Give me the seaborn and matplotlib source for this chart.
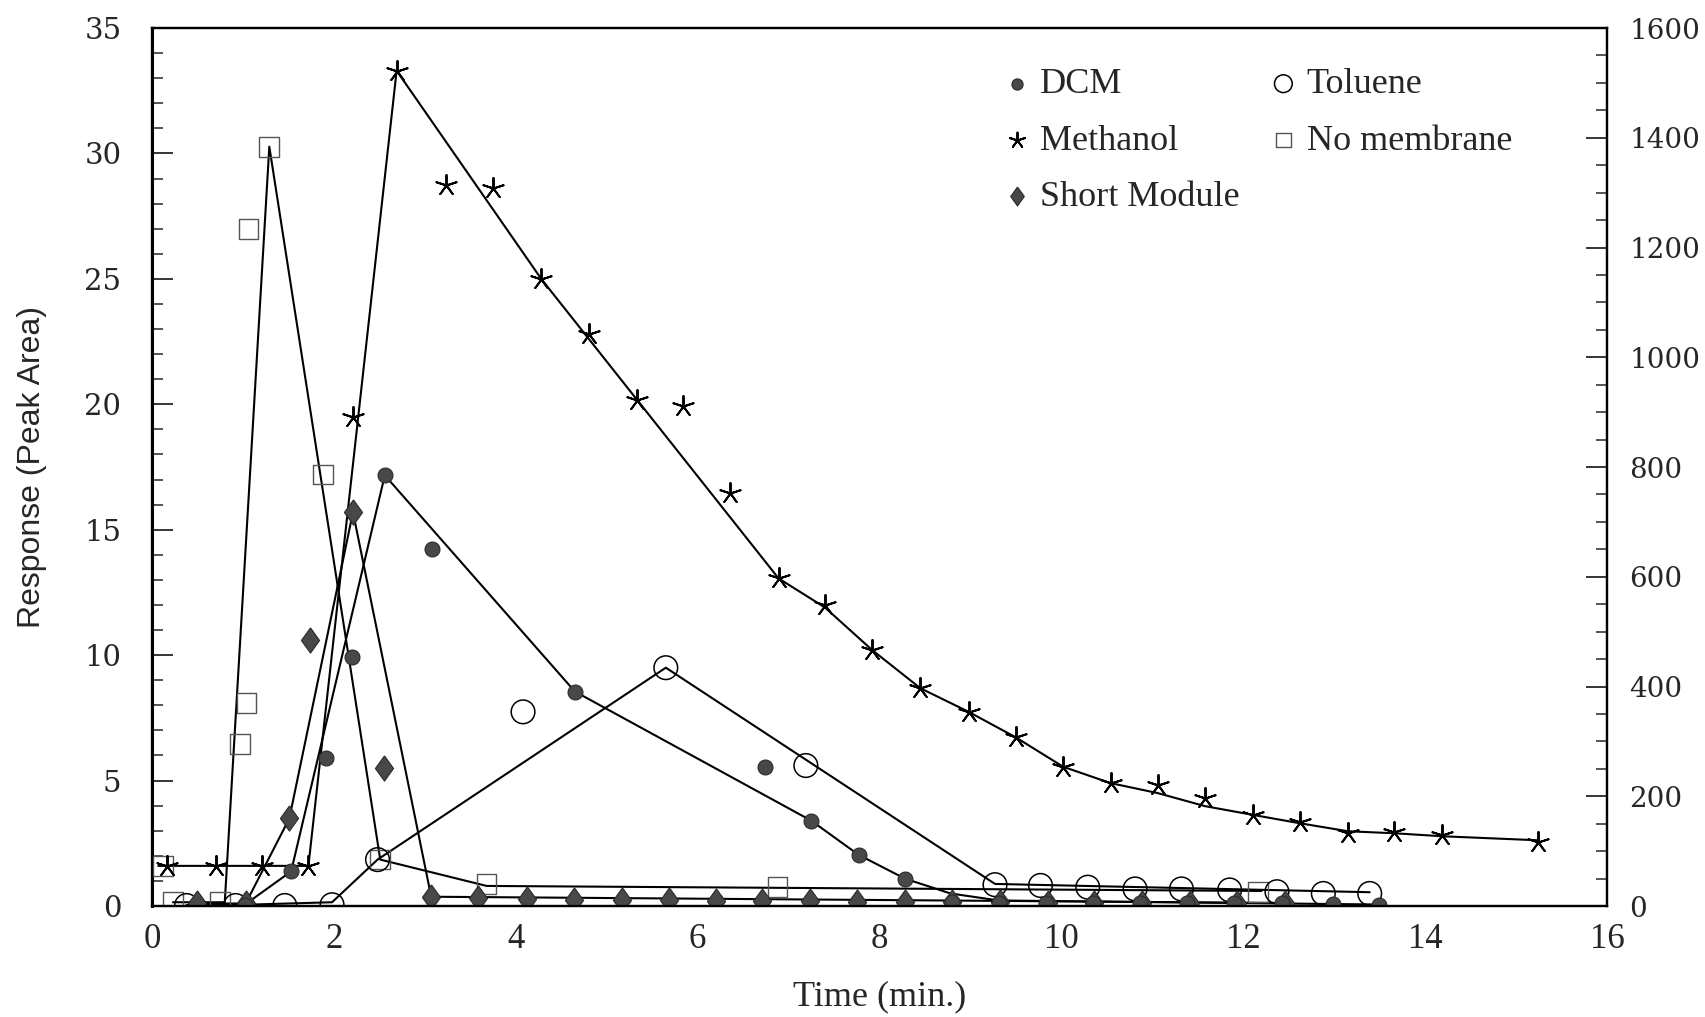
import matplotlib
matplotlib.use("Agg")
import matplotlib.pyplot as plt
from matplotlib import font_manager
from matplotlib.ticker import MultipleLocator
import seaborn as sns

sns.set_theme(style="white")
plt.rcParams['font.family'] = ['Liberation Serif', 'DejaVu Serif']

# ---- measured points -------------------------------------------------------
dcm_x = [1.02, 1.53, 1.91, 2.20, 2.56, 3.08, 4.65, 6.74, 7.25, 7.77, 8.28,
         8.80, 9.31, 9.83, 10.35, 10.86, 11.38, 11.90, 12.43, 12.99, 13.49]
dcm_y = [0.05, 1.38, 5.90, 9.94, 17.17, 14.25, 8.55, 5.55, 3.40, 2.04, 1.09,
         0.15, 0.12, 0.12, 0.10, 0.10, 0.10, 0.10, 0.10, 0.06, 0.05]

tol_x = [0.38, 0.92, 1.46, 1.98, 2.48, 4.08, 5.65, 7.19, 9.27, 9.77, 10.29,
         10.81, 11.32, 11.85, 12.37, 12.88, 13.39]
tol_y = [0.02, 0.02, 0.02, 0.05, 1.85, 7.74, 9.50, 5.60, 0.85, 0.82, 0.75,
         0.68, 0.68, 0.64, 0.57, 0.50, 0.50]

meoh_x = [0.16, 0.70, 1.21, 1.72, 2.21, 2.69, 3.23, 3.75, 4.28, 4.81, 5.33,
          5.84, 6.36, 6.89, 7.40, 7.92, 8.45, 8.98, 9.50, 10.02, 10.54,
          11.06, 11.58, 12.11, 12.62, 13.15, 13.66, 14.19, 15.24]
meoh_y = [1.60, 1.60, 1.60, 1.60, 19.50, 33.30, 28.76, 28.64, 25.00, 22.82,
          20.17, 19.93, 16.45, 13.06, 12.00, 10.20, 8.68, 7.74, 6.72, 5.55,
          4.91, 4.82, 4.32, 3.63, 3.36, 2.92, 2.96, 2.83, 2.56]

nomem_x = [0.12, 0.23, 0.75, 0.97, 1.04, 1.06, 1.29, 1.88, 2.51, 3.68,
           6.88, 12.16]
nomem_y = [1.60, 0.15, 0.15, 6.47, 8.10, 27.00, 30.27, 17.20, 1.85, 0.88,
           0.75, 0.57]

short_x = [0.50, 1.03, 1.51, 1.74, 2.21, 2.55, 3.07, 3.59, 4.12, 4.64, 5.17,
           5.69, 6.20, 6.71, 7.23, 7.75, 8.28, 8.80, 9.32, 9.85, 10.36,
           10.89, 11.41, 11.93, 12.46]
short_y = [0.10, 0.10, 3.49, 10.60, 15.70, 5.50, 0.37, 0.30, 0.27, 0.25,
           0.23, 0.22, 0.20, 0.20, 0.18, 0.17, 0.16, 0.15, 0.15, 0.13, 0.12,
           0.12, 0.11, 0.10, 0.10]

# ---- trend lines drawn through the data ------------------------------------
dcm_fit_x = [1.02, 1.53, 2.56, 4.65, 7.25, 7.77, 8.28, 8.78, 9.31, 13.49]
dcm_fit_y = [0.05, 1.38, 17.17, 8.55, 3.40, 2.04, 1.09, 0.50, 0.22, 0.06]

tol_fit_x = [0.38, 1.02, 1.98, 2.48, 5.65, 9.27, 13.39]
tol_fit_y = [0.04, 0.05, 0.15, 1.85, 9.50, 0.88, 0.55]

meoh_fit_x = [0.07, 1.72, 2.69, 4.28, 6.89, 7.40, 7.92, 8.45, 8.98, 9.50,
              10.02, 10.54, 11.06, 11.58, 12.11, 12.62, 13.15, 13.66, 14.19,
              15.24]
meoh_fit_y = [1.60, 1.60, 33.30, 25.00, 13.06, 11.90, 10.20, 8.68, 7.74,
              6.72, 5.55, 4.90, 4.50, 3.98, 3.63, 3.30, 2.98, 2.90, 2.78, 2.62]

nomem_fit_x = [0.23, 0.80, 1.29, 2.51, 3.68, 12.20]
nomem_fit_y = [0.15, 0.15, 30.27, 1.85, 0.80, 0.60]

short_fit_x = [0.50, 1.03, 1.51, 2.21, 3.07, 12.46]
short_fit_y = [0.10, 0.10, 3.49, 15.70, 0.37, 0.12]

x_ticks = [0, 2, 4, 6, 8, 10, 12, 14, 16]
left_ticks = [0, 5, 10, 15, 20, 25, 30, 35]
right_ticks = [0, 200, 400, 600, 800, 1000, 1200, 1400, 1600]

# ---- figure ----------------------------------------------------------------
fig = plt.figure(figsize=(17.05, 10.17), dpi=100)
ax = fig.add_axes([0.08915, 0.10914, 0.8534, 0.8633])

line_kw = dict(color="black", linewidth=1.5, sort=False, estimator=None,
               legend=False, ax=ax, zorder=2)
for fx, fy in [(dcm_fit_x, dcm_fit_y), (tol_fit_x, tol_fit_y),
               (meoh_fit_x, meoh_fit_y), (nomem_fit_x, nomem_fit_y),
               (short_fit_x, short_fit_y)]:
    sns.lineplot(x=fx, y=fy, **line_kw)

diamond = [(0, 1), (0.72, 0), (0, -1), (-0.72, 0), (0, 1)]

sns.scatterplot(x=nomem_x, y=nomem_y, marker="s", s=200, color="#555555",
                facecolor="none", edgecolor="#555555", linewidth=1.0,
                ax=ax, zorder=3, label="No membrane")
sns.scatterplot(x=tol_x, y=tol_y, marker="o", s=290, color="black",
                facecolor="none", edgecolor="black", linewidth=1.1,
                ax=ax, zorder=3, label="Toluene")
sns.scatterplot(x=meoh_x, y=meoh_y, marker=(5, 2, 0), s=230, color="black",
                edgecolor="black", linewidth=1.4, ax=ax, zorder=4,
                label="Methanol")
sns.scatterplot(x=short_x, y=short_y, marker=diamond, s=330, color="#484848",
                edgecolor="#2a2a2a", linewidth=0.8, ax=ax, zorder=5,
                label="Short Module")
sns.scatterplot(x=dcm_x, y=dcm_y, marker="o", s=115, color="#484848",
                edgecolor="#2a2a2a", linewidth=0.8, ax=ax, zorder=5,
                label="DCM")

ax.set_xlim(0, 16)
ax.set_ylim(0, 35)
ax.set_xticks(x_ticks)
ax.set_yticks(left_ticks)
ax.xaxis.set_minor_locator(MultipleLocator(0.5))
ax.yaxis.set_minor_locator(MultipleLocator(1))
ax.tick_params(axis="x", which="major", direction="in", length=14, width=1.3,
               labelsize=25, pad=12, top=False)
ax.tick_params(axis="x", which="minor", direction="in", length=7, width=1.1,
               top=False)
ax.tick_params(axis="y", which="major", direction="in", length=15, width=1.3,
               pad=22, right=False)
ax.tick_params(axis="y", which="minor", direction="in", length=8, width=1.1,
               right=False)
for lab in ax.get_yticklabels():
    lab.set_fontfamily("DejaVu Serif")
    lab.set_fontsize(21)

ax2 = ax.twinx()
ax2.set_ylim(0, 1600)
ax2.set_yticks(right_ticks)
ax2.yaxis.set_minor_locator(MultipleLocator(50))
ax2.tick_params(axis="y", which="major", direction="in", length=15, width=1.3,
                pad=16)
ax2.tick_params(axis="y", which="minor", direction="in", length=8, width=1.1)
for lab in ax2.get_yticklabels():
    lab.set_fontfamily("DejaVu Serif")
    lab.set_fontsize(20)
ax2.grid(False)
ax.grid(False)

for a in (ax, ax2):
    for side, sp in a.spines.items():
        sp.set_color("black")
        sp.set_linewidth(1.6)
ax.spines["left"].set_linewidth(2.2)

ax.set_xlabel("Time (min.)", fontsize=26, labelpad=18)

names = {f.name for f in font_manager.fontManager.ttflist}
ylab_font = "Liberation Sans Narrow" if "Liberation Sans Narrow" in names else "Liberation Sans"
ax.set_ylabel("Response (Peak Area)", fontsize=27 if ylab_font.endswith("Narrow") else 23,
              family=ylab_font, labelpad=10)
ax.yaxis.set_label_coords(-0.072, 0.5)

handles, labels = ax.get_legend_handles_labels()
order = ["DCM", "Methanol", "Short Module", "Toluene", "No membrane"]
hmap = dict(zip(labels, handles))
leg = ax.legend([hmap[k] for k in order], order, loc="upper left",
                bbox_to_anchor=(0.5795, 0.951), bbox_transform=fig.transFigure,
                ncol=2, frameon=False, fontsize=26, handlelength=0.6,
                handletextpad=0.35, columnspacing=0.9, labelspacing=0.64,
                borderpad=0, markerscale=0.75)

fig.savefig("out.png", dpi=100)
